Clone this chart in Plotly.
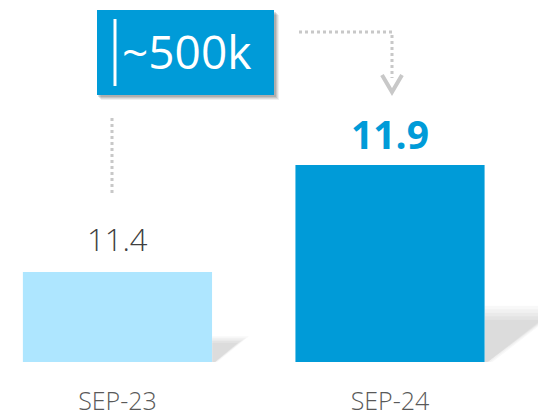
import plotly.graph_objects as go

# ---- data ----
categories = ["SEP-23", "SEP-24"]
values = [11.4, 11.9]
value_labels = ["11.4", "11.9"]
callout_text = "~500k"

# ---- styling ----
W, H = 538, 417
MB = 55                      # bottom margin (plot area = 0..362 px)
PH = H - MB
BLUE = "#009BD8"
LIGHT = "#AEE6FF"
DOT = "#C8C8C8"
BAR_W = 0.694
Y_RANGE = [10.979, 12.672]
X_RANGE = [-0.431, 1.543]
FONT = "Open Sans"

def px(x):   # pixel x -> paper
    return x / W

def py(y):   # pixel y -> paper
    return 1 - y / PH

xs = list(range(len(categories)))

fig = go.Figure()
fig.add_trace(go.Bar(
    x=xs, y=values, width=BAR_W,
    marker=dict(color=[LIGHT, BLUE], line=dict(width=0)),
    hoverinfo="skip",
))

shapes = []
# soft perspective shadows to the right of each bar (derived from bar geometry)
base = Y_RANGE[0]
for i, v in enumerate(values):
    h = v - base
    right = xs[i] + BAR_W / 2
    for j in range(5):
        d = (j - 2) * 0.018
        top = base + h * (0.25 + d)
        ext = h * (0.275 + 1.3 * d)
        foot = 0.012 + max(d, 0) * h * 0.5
        path = (f"M {right},{base} L {right},{top} "
                f"L {right + ext},{top} L {right + foot},{base} Z")
        shapes.append(dict(type="path", path=path, xref="x", yref="y",
                           fillcolor="rgba(0,0,0,0.026)",
                           line=dict(width=0), layer="below"))

# callout box shadow + box
for off, a in [(5, 0.06), (4, 0.08), (3, 0.10), (2, 0.12)]:
    shapes.append(dict(type="rect", xref="paper", yref="paper",
                       x0=px(97 + off - 1), x1=px(274 + off), y0=py(95 + off), y1=py(10 + off),
                       fillcolor=f"rgba(0,0,0,{a})", line=dict(width=0)))
shapes.append(dict(type="rect", xref="paper", yref="paper",
                   x0=px(97), x1=px(274), y0=py(95), y1=py(10),
                   fillcolor=BLUE, line=dict(width=0)))
# white cursor bar inside the box
shapes.append(dict(type="line", xref="paper", yref="paper",
                   x0=px(115), x1=px(115), y0=py(19), y1=py(86),
                   line=dict(color="white", width=3)))
# dotted connector from the first bar up to the box
shapes.append(dict(type="line", xref="paper", yref="paper",
                   x0=px(112), x1=px(112), y0=py(193), y1=py(118),
                   line=dict(color=DOT, width=3, dash="3px,3px")))
# dotted elbow connector to the second bar
shapes.append(dict(type="path", xref="paper", yref="paper",
                   path=f"M {px(299)},{py(32)} L {px(392)},{py(32)} L {px(392)},{py(78)}",
                   line=dict(color=DOT, width=3, dash="3px,3px")))
# arrow head (chevron)
shapes.append(dict(type="path", xref="paper", yref="paper",
                   path=f"M {px(382)},{py(75)} L {px(392)},{py(92)} L {px(402)},{py(75)}",
                   line=dict(color=DOT, width=4)))

annotations = [
    dict(x=xs[0], y=values[0], xref="x", yref="y", text=value_labels[0],
         showarrow=False, yanchor="bottom", yshift=10,
         font=dict(family=FONT, size=31, color="#404040", weight=300)),
    dict(x=xs[1], y=values[1], xref="x", yref="y", text=f"<b>{value_labels[1]}</b>",
         showarrow=False, yanchor="bottom", yshift=3,
         font=dict(family=FONT, size=39, color=BLUE)),
    dict(x=px(186), y=py(51), xref="paper", yref="paper", text=callout_text,
         showarrow=False, xanchor="center", yanchor="middle",
         font=dict(family=FONT, size=46, color="white")),
]

fig.update_layout(
    width=W, height=H,
    margin=dict(l=0, r=0, t=0, b=MB),
    paper_bgcolor="white", plot_bgcolor="white",
    showlegend=False,
    shapes=shapes,
    annotations=annotations,
    xaxis=dict(range=X_RANGE, tickvals=xs, ticktext=categories,
               showgrid=False, zeroline=False, showline=False, ticks="",
               ticklabelstandoff=22,
               tickfont=dict(family=FONT, size=25, color="#595959", weight=300)),
    yaxis=dict(range=Y_RANGE, visible=False, showgrid=False, zeroline=False),
)

fig.write_html("out.html", config={"displayModeBar": False},
               post_script="document.body.style.margin='0';document.body.style.overflow='hidden';")
